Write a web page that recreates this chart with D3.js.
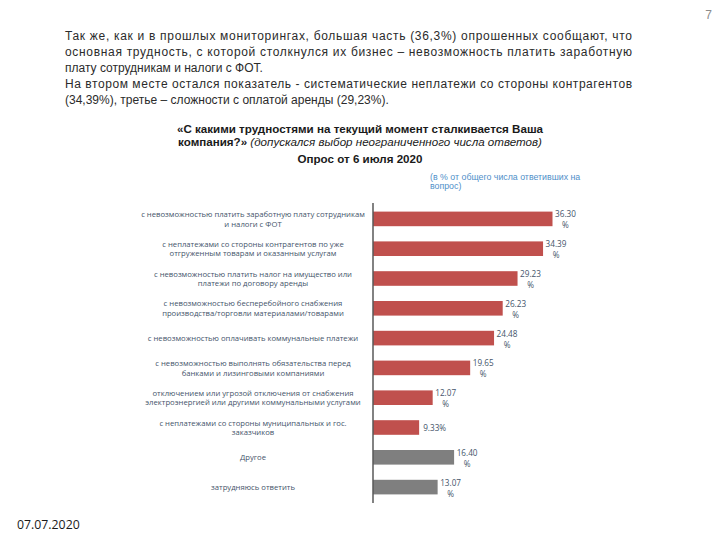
<!DOCTYPE html>
<html><head><meta charset="utf-8">
<script src="https://cdn.jsdelivr.net/npm/d3@7"></script>
<style>body{margin:0;background:#fff}svg{display:block}</style>
</head><body>
<svg id="c" width="720" height="540"></svg>
<script>
const categories = [
  "с невозможностью платить заработную плату сотрудникам\nи налоги с ФОТ",
  "с неплатежами со стороны контрагентов по уже\nотгруженным товарам и оказанным услугам",
  "с невозможностью платить налог на имущество или\nплатежи по договору аренды",
  "с невозможностью бесперебойного снабжения\nпроизводства/торговли материалами/товарами",
  "с невозможностью оплачивать коммунальные платежи",
  "с невозможностью выполнять обязательства перед\nбанками и лизинговыми компаниями",
  "отключением или угрозой отключения от снабжения\nэлектроэнергией или другими коммунальными услугами",
  "с неплатежами со стороны муниципальных и гос.\nзаказчиков",
  "Другое",
  "затрудняюсь ответить"
];
const values = [36.30, 34.39, 29.23, 26.23, 24.48, 19.65, 12.07, 9.33, 16.40, 13.07];
const groups = ["main","main","main","main","main","main","main","main","other","other"];

const introLines = [
  {t:"Так же, как и в прошлых мониторингах, большая часть (36,3%) опрошенных сообщают, что", j:true},
  {t:"основная трудность, с которой столкнулся их бизнес – невозможность платить заработную", j:true},
  {t:"плату сотрудникам и налоги с ФОТ.", j:false},
  {t:"На втором месте остался показатель - систематические неплатежи со стороны контрагентов", j:true},
  {t:"(34,39%), третье – сложности с оплатой аренды (29,23%).", j:false}
];
const titleLine1 = "«С какими трудностями на текущий момент сталкивается Ваша";
const titleLine2a = "компания?»";
const titleLine2b = " (допускался выбор неограниченного числа ответов)";
const titleLine3 = "Опрос от 6 июля 2020";
const noteLines = ["(в % от общего числа ответивших на", "вопрос)"];
const pageNum = "7";
const dateText = "07.07.2020";

const svg = d3.select("#c");
const color = d3.scaleOrdinal().domain(["main","other"]).range(["#c0504d","#7f7f7f"]);

// intro paragraph
const introY = [40, 56, 72, 88, 104];
introLines.forEach((l,i)=>{
  const t = svg.append("text").attr("x",65).attr("y",introY[i])
    .attr("font-family","Liberation Sans, Arial, sans-serif").attr("font-size",12)
    .attr("fill","#2b2b2b").text(l.t);
  if(l.j) t.attr("textLength",567).attr("lengthAdjust","spacing");
});

svg.append("text").attr("x",712).attr("y",19).attr("text-anchor","end")
  .attr("font-family","Liberation Sans, Arial, sans-serif").attr("font-size",12)
  .attr("fill","#8c8c8c").text(pageNum);

// titles
const tf = 11.6;
svg.append("text").attr("x",360).attr("y",133).attr("text-anchor","middle")
  .attr("font-family","Liberation Sans, Arial, sans-serif").attr("font-size",tf).attr("font-weight","bold")
  .attr("fill","#1a1a1a").text(titleLine1);
const t2 = svg.append("text").attr("x",360).attr("y",145.5).attr("text-anchor","middle")
  .attr("font-family","Liberation Sans, Arial, sans-serif").attr("font-size",tf).attr("fill","#1a1a1a");
t2.append("tspan").attr("font-weight","bold").text(titleLine2a);
t2.append("tspan").attr("font-style","italic").text(titleLine2b);
svg.append("text").attr("x",360).attr("y",162.5).attr("text-anchor","middle")
  .attr("font-family","Liberation Sans, Arial, sans-serif").attr("font-size",tf).attr("font-weight","bold")
  .attr("fill","#1a1a1a").text(titleLine3);

noteLines.forEach((s,i)=>{
  svg.append("text").attr("x",430).attr("y",179.5+i*9.5)
    .attr("font-family","Liberation Sans, Arial, sans-serif").attr("font-size",8.8)
    .attr("fill","#4f8fc9").text(s);
});

// chart
const axisX = 373;
const x = d3.scaleLinear().domain([0, 36.30]).range([axisX, 552.5]);
const y = d3.scaleBand().domain(categories).range([204, 502]).paddingInner(0.51).paddingOuter(0.255);

svg.append("g").selectAll("rect").data(values).join("rect")
  .attr("x", x(0)).attr("y",(d,i)=>y(categories[i]))
  .attr("width", d=>x(d)-x(0)).attr("height", y.bandwidth())
  .attr("fill",(d,i)=>color(groups[i]));

// axis line
const yAxis = d3.axisLeft(y).tickSize(0).tickFormat("");
const ag = svg.append("g").attr("transform",`translate(${axisX},0)`).call(yAxis);
ag.select(".domain").attr("d","M0,203V503").attr("stroke","#595959").attr("stroke-width",1.5);

// category labels
const lab = svg.append("g").attr("font-family","Open Sans, sans-serif").attr("font-size",7.7).attr("fill","#44546a").attr("text-anchor","middle");
categories.forEach((c,i)=>{
  const lines = c.split("\n");
  const cy = y(c) + y.bandwidth()/2;
  const lh = 9.6;
  lines.forEach((s,k)=>{
    lab.append("text").attr("x",253).attr("y", cy + (k-(lines.length-1)/2)*lh + 2.8).text(s);
  });
});

// value labels
const vl = svg.append("g").attr("font-family","Open Sans, sans-serif").attr("font-size",8.2).attr("fill","#44546a");
values.forEach((v,i)=>{
  const cy = y(categories[i]) + y.bandwidth()/2;
  const xe = x(v);
  if (v < 10) {
    vl.append("text").attr("x",xe+4).attr("y",cy+3).text(v.toFixed(2)+"%");
  } else {
    vl.append("text").attr("x",xe+13).attr("y",cy-1.5).attr("text-anchor","middle").text(v.toFixed(2));
    vl.append("text").attr("x",xe+13).attr("y",cy+9.5).attr("text-anchor","middle").text("%");
  }
});

svg.append("text").attr("x",17).attr("y",529)
  .attr("font-family","Open Sans, sans-serif").attr("font-size",12.3).attr("fill","#1a1a1a").text(dateText);
</script>
</body></html>
